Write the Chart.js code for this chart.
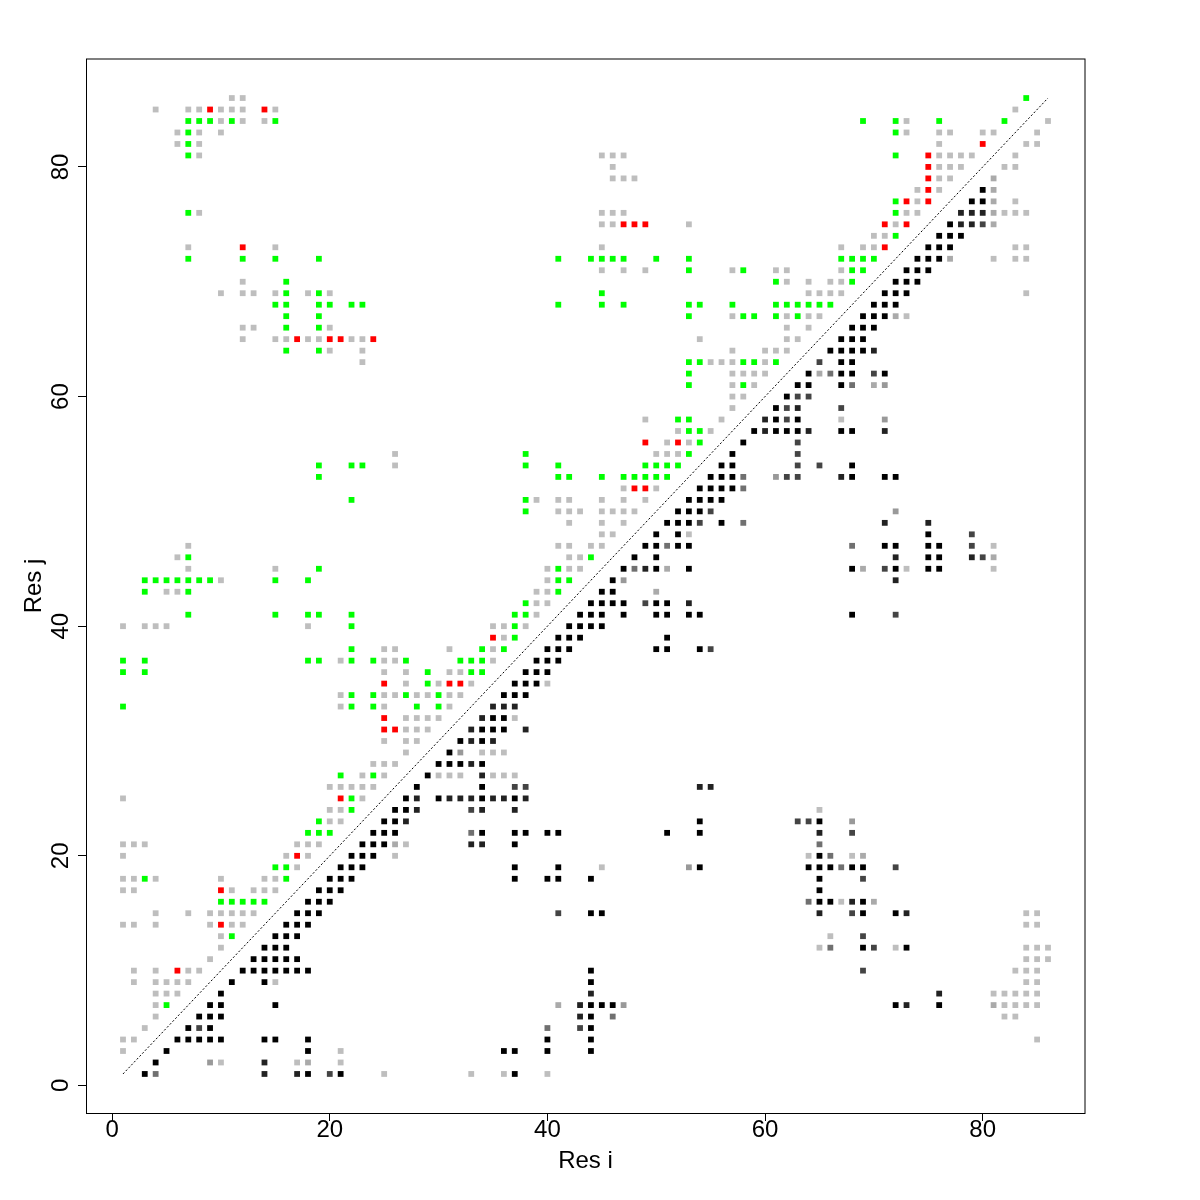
<!DOCTYPE html>
<html>
<head>
<meta charset="utf-8">
<style>
body { margin: 0; background: #fff; }
canvas { display: block; }
</style>
<script src="https://cdn.jsdelivr.net/npm/chart.js@4/dist/chart.umd.min.js"></script>
</head>
<body>
<canvas id="myChart" width="1200" height="1200"></canvas>
<script>
// each row: [j, i, i, i ...]
let greenRows = [
    [86,84],[84,7,8,9,11,15,69,72,76,82],[83,7,72],[82,7],[81,7,72],[77,72],[76,7,72],[74,72],
    [72,7,12,15,19,41,44,45,46,47,50,53,67,68,69,70],[71,53,58,68,69],[70,16,61,68],[69,16,19,45],
    [68,15,16,19,20,22,23,41,45,47,53,54,57,61,62,63,64,65,66],[67,16,19,53,58,59,61,63],[66,16,19],
    [64,16,19],[63,53,54,58,59,61],[62,53],[61,53,58],[58,52,53],[57,53,54],[56,54],[55,38,53],
    [54,19,22,23,38,41,49,50,51,52],[53,19,41,42,45,47,48,49,50,51],[51,22,38],[50,38],[46,7,44],
    [45,19,41],[44,3,4,5,6,7,8,9,15,18,41,42],[43,3,7,41],[42,38],[41,7,15,18,19,22,37,38],[40,22,37],
    [39,37],[38,22,34,36],[37,1,3,18,19,22,24,27,32,33,34],[36,1,3,29,33,34],[35,29],[34,22,24,27,30],
    [33,1,22,24,28,30],[27,21,24],[25,22],[24,22],[23,19],[22,18,19,20],[19,15,16],[18,3,16],
    [16,10,11,12,13,14],[13,11],[7,5],
];
let redRows = [
    [85,9,14],[82,80],[81,75],[80,75],[79,75],[78,75],[77,73,75],[75,47,48,49,71,73],[73,12,71],
    [65,17,20,21,24],[56,49,52],[52,48,49],[39,35],[35,25,31,32],[32,25],[31,25,26],[25,21],[20,17],
    [17,10],[14,10],[10,6],
];
let lightRows = [
    [86,11,12],[85,4,7,8,10,11,12,15,83],[84,10,12,14,73,86],[83,6,8,10,73,76,77,80,81,85],
    [82,6,8,76,84,85],[81,8,45,46,47,76,77,78,79,83],[80,46,76,77,78,82,83],[79,46,47,48,76,77],
    [78,74,76],[77,74,83],[76,8,45,46,47,73,74,82,83,84],[75,45,46,53,72],[74,70,71],
    [73,7,15,45,67,69,70,83,84],[72,81,83,84],[71,45,47,49,57,61,62,67],[70,12,62,64,66,67],
    [69,10,12,13,15,18,20,64,65,66,67,84],[67,57,62,64,65,73],[66,12,13,20,62,64],
    [65,12,15,16,18,19,22,23,54,62,63],[64,20,23,57,60,61,62],[63,23,55,56,57,60],[62,57,58,59,60],
    [61,57,59],[60,57,58],[59,57],[58,49,56,67],[57,52,55],[56,51,53],[55,26,50,51,52],[54,26],
    [52,47,50],[51,39,41,42,45,47,49],[50,41,42,43,45,46,47,48],[49,42,45,47],[48,45,46,53],
    [47,7,41,42,44,45,81],[46,6,42,43],[45,7,15,40,42,43,73,81],[44,10,40],[43,5,6,39,40],[42,39,40],
    [41,39],[40,1,3,4,5,18,35,36,38],[39,36],[38,25,26,31,35],[37,21,25,26,35],[36,25,27,31,32],
    [35,27,30,33,40],[34,21,25,26,28,29,31,32],[33,21,25,31],[32,27,28,29,30,37],[31,27,28,29],
    [30,25,27,28],[29,27,34,35,36],[28,24,25,26],[27,23,25,30,31,32,35,36,37],[26,20,21,22,23,24],
    [25,1,23],[24,20,21,65],[23,20,21],[21,1,2,3,17,18,19,27],[20,1,16,18,26,64,68],[19,17,45],
    [18,1,2,4,10,14,15],[17,1,2,11,13,14,15],[16,67],[15,4,7,9,10,11,12,13,84,85],
    [14,1,2,4,9,11,12,84,85],[13,10,66],[12,10,65,72,84,85,86],[11,9,84,85,86],[10,2,4,7,8,83,84,85],
    [9,2,4,5,6,7,15,84,85],[8,4,5,6,81,82,83,84,85],[7,4,82,83,84,85],[6,4,82,83],[5,3],[4,1,2,85],
    [3,1,21],[2,10,17,21],[1,25,33,36,40],
];
let blackRows = [
    [78,80],[77,79,80],[75,77],[74,76,77,78],[73,75,76,77],[72,74,75,76],[71,73,74,75],[70,72,73,74],
    [69,71,72,73],[68,70,71,72],[67,69,70,71],[66,68,69,70],[65,67,68,69],[64,66,67,68,69],[63,67,68],
    [62,64,67,68,71],[61,63,64,67],[60,62],[59,61],[58,61,63],[57,59,61,62,63,67,68],[56,58],[55,57],
    [54,56,57,68],[53,55,56,57,68,71,72],[52,54,55,56,57],[51,53,54,55,56],[50,52,53,54],[49,51,52,53,56],
    [48,50,52,75],[47,49,50,52,53,71,72,75,76],[46,48,50,75,76],[45,47,50,53,68,72,75,76],[44,46],
    [43,45,46],[42,44,45,46,47,50,51],[41,43,44,45,47,50,51,53,54,68],[40,42,43,44,45],[39,41,42,43,51],
    [38,40,41,42,50,51,54],[37,39,40,41],[36,38,39,40],[35,37,38,39],[34,36,37,38],[32,35,36],
    [31,34,35,36],[30,32,34],[29,31],[28,30,31,32,34],[27,29],[26,28,34],[25,27,30,34,37],[24,26,27],
    [23,25,26,54,65],[22,24,25,26,34,37,38,40,41,51,54],[21,23,24,25,37],[20,22,23,24,65],
    [19,21,22,23,37,41,54,64,65,66,68,69],[18,20,21,22,37,40,41,44,65],[17,19,20,21,65],
    [16,18,19,20,65,66,69],[15,17,18,19,44,45,69,72],[14,16,17,18],[13,15,16,17],[12,14,15,16,69,73],
    [11,13,14,15,16,17],[10,12,13,14,15,16,17,18,44],[9,11,14,44],[8,10],[7,9,10,15,44,45,46,72,76],
    [6,8,9,10,44],[5,7,9,44],[4,6,7,8,9,10,14,15,18,40,44],[3,5,18,36,37,40,44],[2,4],[1,3,18,21,37],
];
let darkRows = [
    [76,78,79,80],[75,78,79],[64,70],[59,63],[58,60],[57,60,64,71],[53,67],[49,71,75],[46,72,79],[45,49],
    [44,72],[42,53],[33,35,36,37],[32,34],[31,33,38],[30,33,35],[28,33],[27,34],[26,54,55],
    [25,28,31,32,33,35,36,38],[24,28,34,37],[23,27],[22,65],[21,33,34],[16,68],[15,65,73],[8,44,76],
    [7,43,73],[6,43],[2,14],[1,14,17],
];
let midDarkRows = [
    [75,80],[63,65],[62,70],[60,63,64],[59,62,67],[58,62],[56,63],[55,63],[54,63,65],[53,62,63],[50,55],
    [49,54],[48,79],[47,79],[46,80],[45,71],[42,49],[41,72],[38,55],[26,37,38],[24,33],[23,63,64],[22,68],
    [19,72],[18,69],[15,41,68],[13,69],[12,70],[10,69],[5,8,43],[1,20],
];
let midRows = [
    [62,66],[61,68],[53,58],[52,58],[49,58],[47,51,68],[45,48],[22,33],[21,65],[20,66],[19,67],[16,64],
    [12,66],[6,46],[5,40],[1,4],
];
let midLightRows = [
    [61,71],[58,71],[53,61],[50,72],[44,47],[29,32],[23,68],[19,53],[7,47],[2,9],
];
let paleRows = [
    [79,81],[78,81],[77,81],[76,81],[75,81],[72,77],[67,72],[62,65],[61,70],[46,81],[45,51,69],[43,50],
    [21,26],[20,69],[16,70],[7,41,81],[2,18],
];
let diagX = [1, 86];
let diagY = [1, 86];
let xTicks = [0, 20, 40, 60, 80];
let yTicks = [0, 20, 40, 60, 80];

function cells(rows) {
    let out = [];
    rows.forEach(function (r) {
        r.slice(1).forEach(function (i) {
            out.push({ x: i, y: r[0] });
        });
    });
    return out;
}

function layer(rows, color) {
    return {
        type: "scatter",
        data: cells(rows),
        backgroundColor: color,
        borderWidth: 0,
        pointStyle: "rect",
        pointRadius: 4.1,
    };
}

let boxPlugin = {
    id: "box",
    afterDraw: function (chart) {
        let a = chart.chartArea;
        let c = chart.ctx;
        c.save();
        c.strokeStyle = "#000";
        c.lineWidth = 1;
        c.strokeRect(a.left + 0.5, a.top, a.right - a.left - 0.5, a.bottom - a.top + 0.5);
        c.restore();
    },
};

let ctx = document.getElementById("myChart").getContext("2d");
let tickFont = { family: "Liberation Sans", size: 24 };

let chart = new Chart(ctx, {
    data: {
        datasets: [
            {
                type: "line",
                data: diagX.map(function (x, k) {
                    return { x: x, y: diagY[k] };
                }),
                borderColor: "#000",
                borderWidth: 1,
                borderDash: [2, 2],
                pointRadius: 0,
            },
            layer(paleRows, "#aaaaaa"),
            layer(lightRows, "#bebebe"),
            layer(midLightRows, "#999999"),
            layer(midRows, "#707070"),
            layer(midDarkRows, "#444444"),
            layer(darkRows, "#222222"),
            layer(blackRows, "#000000"),
            layer(greenRows, "#00ff00"),
            layer(redRows, "#ff0000"),
        ],
    },
    options: {
        responsive: false,
        animation: false,
        layout: { padding: { top: 59, right: 115, left: 0, bottom: 0 } },
        plugins: { legend: { display: false }, tooltip: { enabled: false } },
        scales: {
            x: {
                type: "linear",
                min: -2.4,
                max: 89.4,
                afterBuildTicks: function (s) {
                    s.ticks = xTicks.map(function (v) { return { value: v }; });
                },
                afterFit: function (s) { s.height = 87; },
                grid: { drawOnChartArea: false, color: "#000", tickLength: 8, tickWidth: 1 },
                border: { display: false },
                ticks: { color: "#000", font: tickFont, padding: -5, maxRotation: 0, autoSkip: false },
                title: { display: true, text: "Res i", color: "#000", font: tickFont, padding: { top: 0, bottom: 24 } },
            },
            y: {
                type: "linear",
                min: -2.4,
                max: 89.4,
                afterBuildTicks: function (s) {
                    s.ticks = yTicks.map(function (v) { return { value: v }; });
                },
                afterFit: function (s) { s.width = 86; },
                grid: { drawOnChartArea: false, color: "#000", tickLength: 8, tickWidth: 1 },
                border: { display: false },
                ticks: { color: "#000", font: tickFont, padding: 3, minRotation: 90, maxRotation: 90, crossAlign: "center", autoSkip: false },
                title: { display: true, text: "Res j", color: "#000", font: tickFont, padding: { top: 20, bottom: 0 } },
            },
        },
    },
    plugins: [boxPlugin],
});
</script>
</body>
</html>
